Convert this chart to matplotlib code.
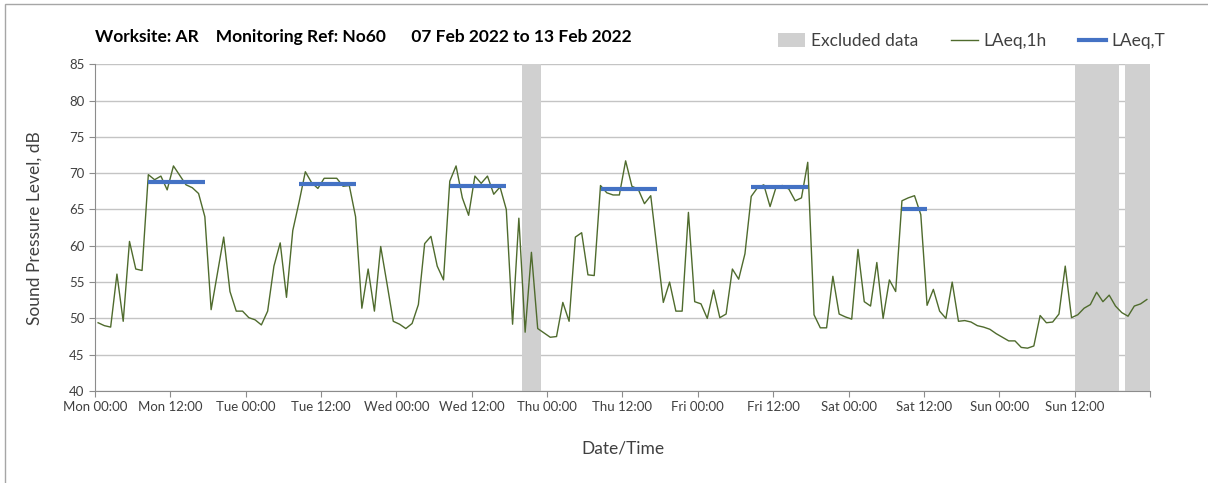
import matplotlib
matplotlib.use("Agg")
import matplotlib.pyplot as plt
from matplotlib.patches import Patch, Rectangle
from matplotlib.lines import Line2D

plt.rcParams['font.family'] = ['Lato', 'DejaVu Sans']

# hourly LAeq,1h values, Mon 00:00 -> Sun 23:00 (07-13 Feb 2022)
laeq_1h = [
    49.4, 49.0, 48.8, 56.1, 49.6, 60.6, 56.8, 56.6, 69.8, 69.1, 69.6, 67.7,
    71.0, 69.7, 68.4, 68.0, 67.2, 64.0, 51.2, 56.2, 61.2, 53.7, 51.0, 51.0,
    50.1, 49.8, 49.1, 51.0, 57.2, 60.4, 52.9, 62.1, 66.0, 70.2, 68.7, 67.9,
    69.3, 69.3, 69.3, 68.2, 68.3, 64.0, 51.4, 56.8, 51.0, 59.9, 54.8, 49.6,
    49.2, 48.6, 49.3, 51.9, 60.3, 61.3, 57.2, 55.3, 68.9, 71.0, 66.6, 64.2,
    69.6, 68.6, 69.6, 67.1, 68.1, 65.0, 49.2, 63.8, 48.1, 59.1, 48.6, 48.0,
    47.4, 47.5, 52.2, 49.6, 61.2, 61.8, 56.0, 55.9, 68.3, 67.3, 67.0, 67.0,
    71.7, 68.2, 67.8, 65.8, 66.9, 59.5, 52.2, 55.0, 51.0, 51.0, 64.6, 52.3,
    52.0, 50.0, 53.9, 50.1, 50.6, 56.8, 55.4, 58.9, 66.8, 68.0, 68.4, 65.4,
    68.2, 68.3, 67.8, 66.2, 66.6, 71.5, 50.5, 48.7, 48.7, 55.8, 50.6, 50.2,
    49.9, 59.5, 52.3, 51.7, 57.7, 50.0, 55.3, 53.7, 66.2, 66.6, 66.9, 64.3,
    51.8, 54.0, 51.0, 50.0, 55.0, 49.6, 49.7, 49.5, 49.0, 48.8, 48.5, 47.9,
    47.4, 46.9, 46.9, 46.0, 45.9, 46.2, 50.4, 49.4, 49.5, 50.6, 57.2, 50.1,
    50.5, 51.4, 51.9, 53.6, 52.3, 53.2, 51.7, 50.8, 50.3, 51.7, 52.0, 52.6,
]

# LAeq,T per day: (first hour, last hour, level)
laeq_t_start = [8, 32, 56, 80, 104, 128]
laeq_t_end = [17, 41, 65, 89, 113, 132]
laeq_t_level = [68.8, 68.5, 68.2, 67.8, 68.1, 65.1]

# excluded periods, hours from Mon 00:00
excl_start = [68, 156, 164]
excl_end = [71, 163, 168]

days = ["Mon", "Tue", "Wed", "Thu", "Fri", "Sat", "Sun"]
tick_labels = [f"{d} {h}" for d in days for h in ("00:00", "12:00")]

hours = [i + 0.5 for i in range(len(laeq_1h))]

fig = plt.figure(figsize=(12.08, 4.83), dpi=100)
ax = fig.add_axes([0.0786, 0.1905, 0.8734, 0.6764])

for s, e in zip(excl_start, excl_end):
    ax.axvspan(s, e, color="#d0d0d0", lw=0, zorder=1)

ax.plot(hours, laeq_1h, color="#4f6b2d", lw=1.0, zorder=3)
for s, e, v in zip(laeq_t_start, laeq_t_end, laeq_t_level):
    ax.plot([s + 0.5, e + 0.5], [v, v], color="#4472c4", lw=3, zorder=4,
            solid_capstyle="butt")

ax.set_xlim(0, 168)
ax.set_ylim(40, 85)
ax.set_yticks(range(40, 90, 5))
ax.set_xticks(range(0, 169, 12))
ax.set_xticklabels(tick_labels + [""])
ax.set_xticks(range(24, 168, 24), minor=True)

ax.grid(axis="y", color="#c4c4c4", lw=1, zorder=0)
ax.grid(axis="x", which="minor", color="#dcdcdc", lw=1, zorder=0)
ax.set_axisbelow(True)

for sp in ("top", "right"):
    ax.spines[sp].set_visible(False)
for sp in ("left", "bottom"):
    ax.spines[sp].set_color("#8c8c8c")
ax.tick_params(axis="both", which="major", colors="#8c8c8c", length=4,
               labelcolor="#404040", labelsize=9.5)
ax.tick_params(axis="x", which="minor", length=0)
ax.tick_params(axis="x", pad=3)

ax.set_ylabel("Sound Pressure Level, dB", fontsize=12.5, color="#404040", labelpad=19)
ax.set_xlabel("Date/Time", fontsize=12.5, color="#404040", labelpad=20)

fig.text(95 / 1208, 1 - 37 / 483,
         "Worksite: AR    Monitoring Ref: No60      07 Feb 2022 to 13 Feb 2022",
         fontsize=12.5, fontweight="bold", color="black", va="center", ha="left")

handles = [
    Patch(facecolor="#d0d0d0", edgecolor="none"),
    Line2D([], [], color="#4f6b2d", lw=1.0),
    Line2D([], [], color="#4472c4", lw=3),
]
fig.legend(handles, ["Excluded data", "LAeq,1h", "LAeq,T"], loc="center right",
           bbox_to_anchor=(1172 / 1208, 1 - 41 / 483), ncol=3, frameon=False,
           fontsize=12.5, handlelength=1.55, handleheight=0.8, columnspacing=1.9,
           handletextpad=0.3, labelcolor="#404040", borderaxespad=0)

# chart border
fig.patches.append(Rectangle((5 / 1208, -0.01), 1.1, 1 - 4 / 483 + 0.01,
                             transform=fig.transFigure, fill=False,
                             edgecolor="#a6a6a6", lw=1))

fig.savefig("out.png", dpi=100)
